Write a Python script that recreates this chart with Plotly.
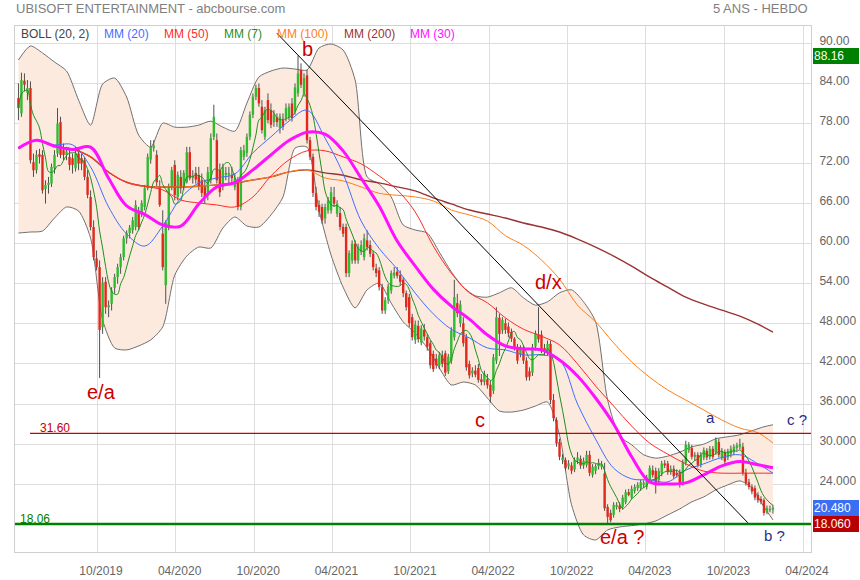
import pandas as pd
import plotly.graph_objects as go

START = "2019-04-01"   # first weekly candle

opens = [
    81.8, 79.5, 84.4, 82.6, 83.3, 72.2, 71.0, 73.4, 73.3, 68.2,
    68.8, 69.0, 71.3, 73.5, 78.2, 74.0, 73.3, 73.0, 72.8, 71.3,
    73.5, 72.8, 72.5, 70.0, 67.0, 62.5, 57.8, 56.5, 47.5, 54.3,
    50.5, 51.0, 53.4, 55.0, 56.5, 58.0, 60.8, 61.6, 62.0, 62.5,
    64.6, 64.6, 65.5, 68.3, 72.6, 74.3, 73.3, 68.5, 61.5, 53.8,
    62.5, 68.5, 71.8, 67.0, 70.0, 68.5, 69.2, 73.7, 69.8, 70.6,
    70.3, 69.5, 68.5, 67.3, 69.5, 76.0, 75.5, 71.0, 68.5, 70.3,
    70.3, 70.3, 68.5, 69.2, 65.5, 73.0, 73.6, 76.0, 79.3, 82.0,
    83.3, 80.5, 76.0, 81.5, 80.0, 78.2, 78.9, 77.3, 78.5, 78.8,
    79.0, 81.0, 79.8, 82.5, 86.0, 82.5, 85.2, 75.5, 73.0, 67.6,
    65.8, 65.5, 63.8, 65.0, 65.0, 67.0, 64.5, 64.6, 62.5, 62.5,
    55.6, 57.5, 60.0, 57.5, 58.8, 58.0, 60.5, 59.8, 58.5, 56.3,
    56.0, 53.5, 50.0, 51.6, 53.0, 55.2, 55.8, 55.3, 54.6, 52.6,
    52.0, 49.0, 45.6, 47.7, 45.2, 47.1, 46.0, 45.1, 43.5, 42.8,
    41.8, 43.3, 43.6, 40.9, 42.5, 46.0, 51.1, 48.1, 48.1, 46.0,
    42.0, 40.6, 41.0, 41.4, 39.7, 39.3, 39.7, 38.9, 38.0, 42.5,
    48.9, 47.0, 48.1, 47.6, 46.8, 45.8, 44.5, 43.5, 44.2, 42.5,
    40.9, 40.7, 44.6, 46.4, 46.4, 44.4, 43.8, 45.0, 36.6, 33.6,
    30.3, 27.6, 27.6, 26.7, 26.8, 26.2, 27.5, 27.8, 26.8, 26.9,
    28.4, 25.4, 26.0, 26.7, 26.6, 25.6, 20.6, 19.7, 19.4, 20.6,
    20.8, 20.6, 21.3, 22.8, 22.0, 23.0, 23.4, 23.4, 23.9, 23.6,
    24.6, 26.1, 26.0, 24.6, 25.6, 27.1, 27.1, 25.8, 26.3, 25.7,
    25.8, 24.2, 27.2, 29.1, 29.4, 28.1, 28.4, 26.9, 28.0, 29.0,
    28.1, 29.3, 28.8, 30.3, 28.0, 28.8, 28.0, 28.5, 28.8, 29.4,
    29.6, 29.6, 25.7, 24.3, 23.6, 23.4, 22.4, 21.8, 21.6, 19.8,
    20.1, 20.2,
]
highs = [
    84.0, 85.6, 85.5, 84.5, 84.3, 73.5, 74.0, 74.2, 74.0, 69.5,
    70.0, 72.0, 74.0, 80.3, 79.0, 75.0, 74.5, 74.0, 73.5, 74.5,
    74.0, 73.5, 73.0, 71.0, 68.0, 63.5, 59.0, 57.5, 55.0, 55.0,
    51.5, 53.5, 55.5, 57.0, 58.5, 61.2, 62.0, 62.8, 64.0, 66.5,
    65.5, 66.5, 68.8, 73.5, 75.5, 75.5, 74.0, 69.5, 65.0, 63.5,
    69.0, 71.5, 72.5, 70.8, 71.0, 71.0, 74.5, 74.5, 71.0, 71.5,
    71.5, 70.5, 69.5, 71.5, 76.5, 80.8, 76.5, 72.0, 72.0, 71.5,
    71.5, 71.5, 70.5, 70.0, 74.5, 74.8, 76.5, 79.8, 82.5, 83.8,
    84.0, 81.5, 80.5, 82.5, 81.0, 80.0, 79.5, 79.5, 79.5, 81.0,
    81.0, 81.8, 84.0, 88.16, 87.0, 85.5, 86.0, 76.0, 73.5, 68.5,
    66.5, 66.0, 66.0, 67.0, 68.5, 68.5, 66.5, 65.5, 63.0, 63.0,
    59.0, 60.5, 60.5, 60.0, 60.5, 61.5, 62.0, 60.5, 59.0, 57.0,
    56.5, 54.0, 52.0, 54.0, 56.0, 56.5, 56.5, 56.0, 55.0, 53.0,
    52.5, 49.5, 48.5, 48.5, 47.8, 48.0, 46.5, 45.5, 44.0, 43.5,
    43.8, 44.0, 44.0, 43.5, 47.5, 54.6, 52.5, 51.5, 49.0, 46.5,
    42.5, 41.5, 41.8, 42.0, 40.5, 41.0, 40.5, 39.5, 43.5, 50.5,
    49.5, 49.0, 48.8, 48.2, 47.3, 46.0, 45.0, 44.8, 44.8, 43.0,
    41.5, 45.0, 47.0, 50.5, 47.0, 45.0, 45.5, 45.5, 37.5, 34.0,
    30.8, 28.5, 28.0, 27.6, 27.3, 28.0, 28.8, 28.3, 28.0, 29.0,
    29.0, 27.0, 27.0, 27.8, 27.5, 27.2, 21.0, 20.2, 21.3, 21.3,
    21.3, 22.4, 23.2, 23.3, 23.8, 24.0, 24.3, 24.7, 24.6, 25.4,
    26.8, 26.8, 26.5, 26.4, 27.5, 27.6, 27.5, 26.8, 26.8, 26.2,
    26.2, 27.7, 30.5, 30.3, 29.9, 28.8, 28.8, 28.8, 29.5, 29.4,
    29.7, 29.7, 31.0, 30.8, 29.4, 29.2, 29.3, 29.8, 30.0, 30.2,
    30.8, 30.2, 26.3, 24.8, 24.0, 23.8, 22.8, 22.2, 21.9, 20.8,
    20.8, 20.9,
]
lows = [
    78.5, 79.0, 82.8, 81.5, 72.0, 70.0, 70.5, 72.0, 67.5, 66.0,
    67.5, 68.5, 70.5, 73.0, 72.8, 72.5, 72.5, 71.0, 70.5, 70.8,
    71.0, 71.0, 69.5, 66.8, 62.0, 57.5, 56.0, 45.6, 46.5, 49.5,
    49.0, 50.0, 52.5, 54.0, 55.5, 57.5, 60.0, 60.8, 61.5, 62.0,
    62.0, 64.0, 65.0, 68.0, 72.0, 73.8, 68.5, 65.5, 56.0, 51.0,
    62.0, 68.0, 66.5, 66.5, 67.5, 68.0, 69.0, 69.5, 69.0, 69.0,
    68.0, 67.0, 66.0, 66.5, 69.0, 75.5, 69.0, 67.0, 68.0, 69.5,
    69.0, 69.0, 68.0, 65.0, 65.0, 72.5, 73.0, 75.5, 78.8, 81.5,
    80.5, 76.5, 75.5, 78.0, 77.3, 77.5, 77.5, 76.5, 77.0, 78.3,
    78.5, 78.3, 79.3, 82.0, 83.3, 82.0, 75.0, 72.5, 67.0, 65.0,
    64.0, 63.0, 63.0, 64.5, 64.5, 65.5, 64.0, 62.0, 61.0, 55.0,
    55.0, 57.0, 57.0, 57.0, 58.3, 57.5, 59.0, 58.0, 56.0, 55.0,
    53.0, 49.5, 49.5, 51.0, 52.5, 54.8, 54.8, 53.8, 52.0, 50.0,
    47.5, 45.5, 45.0, 45.2, 44.8, 45.5, 44.0, 41.3, 40.8, 41.3,
    41.2, 41.5, 40.2, 40.5, 42.0, 45.5, 49.0, 47.5, 44.6, 41.0,
    39.8, 40.0, 40.0, 39.2, 38.8, 38.8, 38.3, 36.2, 37.5, 42.0,
    43.2, 46.5, 46.5, 46.0, 45.3, 44.0, 42.0, 43.0, 42.0, 39.5,
    39.5, 40.2, 44.0, 45.2, 43.6, 43.3, 43.3, 36.0, 33.4, 29.6,
    27.6, 27.0, 26.0, 26.2, 25.5, 25.8, 27.0, 26.3, 26.3, 26.5,
    25.2, 25.0, 25.5, 26.2, 26.2, 20.0, 18.06, 18.3, 19.0, 20.2,
    19.8, 20.2, 21.0, 22.2, 21.8, 22.6, 23.0, 23.0, 23.4, 23.2,
    24.2, 25.0, 22.6, 24.2, 25.2, 26.4, 25.4, 25.4, 24.8, 25.0,
    23.5, 23.8, 26.8, 28.7, 27.7, 27.5, 26.5, 26.5, 27.6, 27.6,
    27.7, 27.7, 28.4, 28.0, 27.6, 27.0, 27.6, 28.0, 28.4, 29.0,
    29.2, 25.3, 23.8, 23.2, 22.5, 21.6, 21.2, 21.0, 19.3, 19.5,
    19.8, 19.6,
]
closes = [
    80.3, 84.5, 83.8, 83.3, 72.5, 71.0, 73.3, 73.0, 68.0, 68.8,
    69.1, 71.5, 73.3, 78.0, 73.3, 73.3, 73.8, 71.8, 71.8, 73.5,
    72.0, 72.0, 70.0, 67.3, 62.5, 58.0, 56.5, 47.1, 54.2, 50.5,
    50.8, 53.0, 55.0, 56.5, 58.0, 60.8, 61.6, 62.4, 63.5, 65.8,
    62.5, 66.1, 68.3, 73.0, 74.5, 74.7, 69.2, 65.8, 56.5, 63.2,
    68.5, 71.0, 67.3, 70.3, 68.3, 70.6, 73.7, 69.8, 70.2, 69.6,
    68.5, 67.6, 66.8, 70.7, 75.8, 79.0, 69.5, 67.7, 71.5, 70.6,
    70.6, 69.8, 69.8, 65.5, 74.0, 74.0, 76.0, 79.3, 82.0, 83.3,
    81.0, 77.0, 80.0, 78.5, 77.8, 79.3, 78.2, 79.0, 77.5, 80.3,
    80.5, 78.8, 83.4, 85.5, 83.8, 84.8, 75.5, 73.0, 67.6, 65.5,
    64.8, 63.5, 65.5, 66.5, 67.7, 66.0, 66.0, 62.5, 61.5, 55.6,
    58.6, 60.0, 57.5, 59.5, 59.8, 60.8, 59.5, 58.5, 56.5, 55.6,
    53.5, 50.0, 51.6, 53.6, 55.6, 55.7, 55.2, 54.3, 52.6, 50.5,
    48.1, 46.0, 47.9, 45.7, 47.3, 46.1, 44.6, 41.8, 41.2, 41.8,
    43.3, 42.0, 40.7, 43.1, 47.0, 52.0, 49.6, 50.9, 45.1, 41.5,
    40.3, 41.0, 40.4, 39.6, 39.3, 40.5, 38.8, 37.1, 43.0, 49.0,
    46.5, 48.6, 47.1, 46.6, 45.8, 44.5, 42.5, 44.3, 42.5, 40.0,
    40.1, 44.5, 46.6, 45.7, 44.1, 43.8, 45.0, 36.6, 33.9, 30.1,
    28.1, 28.0, 26.4, 27.1, 26.0, 27.6, 28.0, 26.8, 27.5, 28.4,
    25.7, 26.6, 26.7, 27.2, 27.0, 20.4, 19.1, 18.6, 20.9, 20.9,
    20.3, 22.0, 22.8, 22.4, 23.3, 23.6, 23.9, 24.3, 24.2, 25.0,
    26.4, 25.4, 24.2, 26.0, 27.1, 26.8, 25.8, 26.3, 25.2, 25.4,
    23.9, 27.3, 29.9, 29.9, 28.1, 28.4, 26.9, 28.4, 29.1, 28.0,
    29.3, 28.1, 30.6, 28.4, 29.0, 27.4, 28.9, 29.3, 29.6, 29.8,
    30.0, 25.7, 24.2, 23.6, 22.9, 22.0, 21.6, 21.4, 19.7, 20.4,
    20.3, 20.48,
]

# Bollinger (20, 2) read every 4 weeks
bb_weeks = list(range(0, 249, 4)) + [251]
bb_upper = [
    87.5, 89.6, 88.55, 87.2, 85.85, 81.5, 77.75, 83.9, 84.8, 81.95,
    76.25, 74.45, 78.05, 77.45, 77.45, 77.75, 78.35, 77.45, 76.85, 81.05,
    84.95, 85.85, 86.3, 86.15, 86.0, 89.3, 89.9, 89.0, 84.5, 70.0,
    68.95, 67.0, 62.8, 62.05, 61.6, 58.75, 55.8, 53.5, 52.2, 52.0,
    52.65, 53.4, 51.9, 50.8, 51.3, 52.65, 53.1, 51.3, 48.3, 36.6,
    31.2, 29.9, 28.4, 27.9, 28.2, 28.8, 29.6, 30.0, 30.8, 31.1,
    31.4, 32.0, 32.6, 32.9,
]
bb_lower = [
    61.6, 61.75, 61.9, 63.85, 65.5, 64.9, 60.85, 48.6, 44.4, 44.1,
    44.7, 45.6, 47.55, 55.3, 58.15, 59.5, 59.35, 62.35, 64.0, 62.65,
    62.5, 64.3, 67.0, 74.3, 74.45, 65.05, 58.3, 53.5, 50.4, 53.1,
    54.1, 51.1, 48.3, 46.6, 44.4, 41.4, 38.85, 39.3, 38.85, 36.9,
    34.95, 34.8, 35.1, 35.7, 36.3, 31.35, 20.9, 16.4, 15.65, 17.15,
    17.6, 17.8, 18.05, 18.5, 19.4, 20.3, 21.35, 22.1, 23.15, 23.9,
    24.5, 23.45, 20.6, 18.65,
]

# moving averages read every 6 weeks
ma_weeks = list(range(0, 247, 6)) + [251]
mm20 = [74.3, 75.5, 74.8, 74.8, 71.5, 65.5, 61.45, 59.65, 62.65, 66.85,
        69.1, 69.85, 70.45, 73.6, 76.0, 78.35, 80.0, 75.8, 70.5, 63.4,
        59.3, 56.2, 52.6, 49.5, 47.2, 45.9, 44.4, 44.1, 43.35, 43.35,
        42.6, 36.0, 30.75, 26.4, 24.8, 24.65, 24.35, 26.1, 27.05, 28.0,
        28.4, 27.05, 25.65]
mm30 = [74.3, 75.5, 74.6, 74.1, 74.45, 69.8, 65.65, 64.4, 62.8, 62.65,
        65.95, 68.5, 69.15, 71.05, 73.3, 75.45, 76.7, 76.4, 73.9, 69.8,
        65.65, 60.4, 56.65, 53.2, 50.65, 48.7, 46.35, 44.7, 44.25, 44.1,
        42.6, 40.2, 36.9, 33.0, 28.1, 24.35, 24.05, 24.2, 25.4, 26.75,
        27.4, 26.9, 26.45]
mm50 = [74.3, 75.5, 74.6, 74.15, 73.0, 70.7, 69.2, 68.6, 68.05, 66.55,
        66.1, 65.8, 65.5, 67.0, 70.15, 72.55, 73.9, 73.9, 73.0, 71.95,
        70.15, 68.05, 64.75, 59.65, 55.6, 52.65, 51.15, 48.9, 47.2, 46.15,
        44.85, 42.0, 38.7, 35.7, 32.7, 30.15, 28.5, 27.05, 25.95, 25.65,
        25.65, 25.65, 25.65]
mm100 = [74.3, 75.5, 74.6, 74.15, 73.0, 70.7, 69.2, 68.6, 68.5, 68.5,
         68.6, 68.8, 69.1, 69.55, 70.0, 70.75, 71.05, 69.85, 69.4, 68.5,
         67.55, 67.25, 67.0, 66.4, 65.05, 64.3, 63.4, 61.2, 59.75, 57.55,
         54.7, 50.8, 48.3, 45.15, 42.3, 40.0, 38.1, 36.6, 35.1, 33.6,
         32.4, 31.7, 30.15]
mm200 = [74.3, 75.5, 74.6, 74.15, 73.0, 70.7, 69.2, 68.6, 68.5, 68.5,
         68.6, 68.8, 69.1, 69.55, 70.0, 70.75, 71.05, 70.6, 70.25, 69.55,
         69.1, 68.5, 67.9, 66.85, 65.95, 65.05, 64.45, 63.85, 63.1, 62.5,
         61.75, 60.7, 59.5, 58.15, 56.65, 55.0, 53.5, 52.0, 50.95, 50.05,
         49.15, 47.95, 46.75]

resistance = 31.60
trend_weeks = [86.0, 242.7]
trend_prices = [91.5, 18.2]
ea_line_bottom = 39.9

y_ticks = [90, 84, 78, 72, 66, 60, 54, 48, 42, 36, 30, 24, 18]
y_text = ["90.00", "84.00", "78.00", "72.00", "66.00", "60.00", "54.00",
          "48.000", "42.000", "36.000", "30.000", "24.000", ""]
x_ticks = ["2019-10-01", "2020-04-01", "2020-10-01", "2021-04-01", "2021-10-01",
           "2022-04-01", "2022-10-01", "2023-04-01", "2023-10-01", "2024-04-01"]
x_text = ["10/2019", "04/2020", "10/2020", "04/2021", "10/2021",
          "04/2022", "10/2022", "04/2023", "10/2023", "04/2024"]

# ---------------------------------------------------------------
t0 = pd.Timestamp(START)
dates = pd.date_range(START, periods=len(closes), freq="7D")


def wk(w):
    return t0 + pd.Timedelta(days=7 * w)


mm7 = pd.Series(closes).rolling(7, min_periods=1).mean().tolist()

fig = go.Figure()
bbx = [wk(w) for w in bb_weeks]
fig.add_trace(go.Scatter(x=bbx, y=bb_upper, mode="lines",
                         line=dict(color="#707070", width=1, shape="spline", smoothing=0.7)))
fig.add_trace(go.Scatter(x=bbx, y=bb_lower, mode="lines", fill="tonexty",
                         fillcolor="#fdeadf",
                         line=dict(color="#707070", width=1, shape="spline", smoothing=0.7)))

# wicks
wx, wy = [], []
for d, h, l in zip(dates, highs, lows):
    wx += [d, d, None]
    wy += [l, h, None]
fig.add_trace(go.Scatter(x=wx, y=wy, mode="lines", line=dict(color="#505050", width=1)))


def bodies(up):
    xs, ys = [], []
    for d, o, c in zip(dates, opens, closes):
        if (c >= o) == up:
            lo, hi = min(o, c), max(o, c)
            if hi - lo < 0.16:
                m = (hi + lo) / 2
                lo, hi = m - 0.08, m + 0.08
            xs += [d, d, None]
            ys += [lo, hi, None]
    return xs, ys


gx, gy = bodies(True)
rx, ry = bodies(False)
fig.add_trace(go.Scatter(x=gx, y=gy, mode="lines", line=dict(color="#2ebd2e", width=2.4)))
fig.add_trace(go.Scatter(x=rx, y=ry, mode="lines", line=dict(color="#e0281c", width=2.4)))

max_ = [wk(w) for w in ma_weeks]
fig.add_trace(go.Scatter(x=max_, y=mm200, mode="lines",
                         line=dict(color="#993333", width=1.4, shape="spline")))
fig.add_trace(go.Scatter(x=max_, y=mm100, mode="lines",
                         line=dict(color="#ff7f1a", width=1, shape="spline")))
fig.add_trace(go.Scatter(x=max_, y=mm50, mode="lines",
                         line=dict(color="#ff2a2a", width=1, shape="spline")))
fig.add_trace(go.Scatter(x=max_, y=mm20, mode="lines",
                         line=dict(color="#3f6fff", width=1, shape="spline")))
fig.add_trace(go.Scatter(x=dates, y=mm7, mode="lines",
                         line=dict(color="#1f8f1f", width=1, shape="spline")))
fig.add_trace(go.Scatter(x=max_, y=mm30, mode="lines",
                         line=dict(color="#ff10ff", width=3, shape="spline")))

# trend line and markers
fig.add_trace(go.Scatter(x=[wk(w) for w in trend_weeks], y=trend_prices, mode="lines",
                         line=dict(color="#000000", width=1)))
low_idx = lows.index(min(lows[:60]))
fig.add_trace(go.Scatter(x=[dates[low_idx], dates[low_idx]], y=[lows[low_idx], ea_line_bottom],
                         mode="lines", line=dict(color="#505050", width=1)))

support = min(lows)
W, H = 860, 580
PL, PR, PT, PB = 15, 811, 26, 552


def px(x):
    return (x - PL) / (PR - PL)


def py(y):
    return (PB - y) / (PB - PT)


shapes = [
    dict(type="line", xref="paper", yref="y", x0=px(30), x1=1, y0=resistance, y1=resistance,
         line=dict(color="#cc0000", width=1.3)),
    dict(type="line", xref="paper", yref="y", x0=0, x1=1, y0=support, y1=support,
         line=dict(color="#008000", width=2.5)),
]

ann = []


def txt(x, y, s, color, size, anchor="center"):
    ann.append(dict(xref="paper", yref="paper", x=px(x), y=py(y), text=s, showarrow=False,
                    xanchor=anchor, yanchor="middle",
                    font=dict(color=color, size=size)))


txt(14, 9, "UBISOFT ENTERTAINMENT - abcbourse.com", "#7f7f7f", 13, "left")
txt(810, 9, "5 ANS - HEBDO", "#7f7f7f", 13, "right")
legend = [("BOLL (20, 2)", "#444444", 19), ("MM (20)", "#3f6fff", 102), ("MM (50)", "#ff2a2a", 162),
          ("MM (7)", "#1f8f1f", 222), ("MM (100)", "#ff7f1a", 275), ("MM (200)", "#993333", 342),
          ("MM (30)", "#ff10ff", 408)]
for s, c, x in legend:
    txt(x, 34, s, c, 12, "left")

red = "#cc0000"
navy = "#2b2b8c"
txt(307, 49, "b", red, 20)
txt(101, 392, "e/a", red, 20)
txt(480, 420, "c", red, 20)
txt(548, 282, "d/x", red, 20)
txt(622, 537, "e/a ?", red, 20)
txt(710, 418, "a", navy, 15)
txt(797, 419, "c ?", navy, 15)
txt(774, 535, "b ?", navy, 15)
txt(38, 428, f"{resistance:.2f}", "#c00000", 12, "left")
txt(18, 519, f"{support:.2f}", "#008000", 12, "left")

for val, label, bg in [(max(highs), f"{max(highs):.2f}", "#008000"),
                       (closes[-1], f"{closes[-1]:.3f}", "#3a6ff3"),
                       (support, f"{support:.3f}", "#b80000")]:
    ann.append(dict(xref="paper", yref="y", x=1, y=val, xanchor="left", yanchor="middle",
                    xshift=2, text=label, showarrow=False, bgcolor=bg, width=44, align="left",
                    borderpad=1, borderwidth=0, font=dict(color="white", size=12)))

fig.update_layout(
    width=W, height=H, margin=dict(l=PL, r=W - PR, t=PT, b=H - PB, autoexpand=False),
    paper_bgcolor="white", plot_bgcolor="white", showlegend=False, hovermode=False,
    font=dict(family="Liberation Sans, Arial, sans-serif", size=12, color="#666666"),
    shapes=shapes, annotations=ann,
    xaxis=dict(type="date", range=["2019-03-24", "2024-04-19 14:00"], tickvals=x_ticks,
               ticktext=x_text, showgrid=True, gridcolor="#dedede", gridwidth=1,
               showline=True, mirror=True, linecolor="#cfcfcf", ticks="",
               ticklabelstandoff=8, ticklabelshift=4, zeroline=False, automargin=False,
               tickfont=dict(size=12, color="#666666")),
    yaxis=dict(side="right", range=[13.85, 92.59], tickvals=y_ticks, ticktext=y_text,
               showgrid=True, gridcolor="#dedede", gridwidth=1, showline=True, mirror=True,
               linecolor="#cfcfcf", ticks="", ticklabelstandoff=5, ticklabelshift=-3,
               zeroline=False, automargin=False, tickfont=dict(size=12, color="#666666")),
)

fig.write_html(
    "out.html",
    config={"displayModeBar": False},
    post_script="document.body.style.margin='0';document.body.style.padding='0';",
)
